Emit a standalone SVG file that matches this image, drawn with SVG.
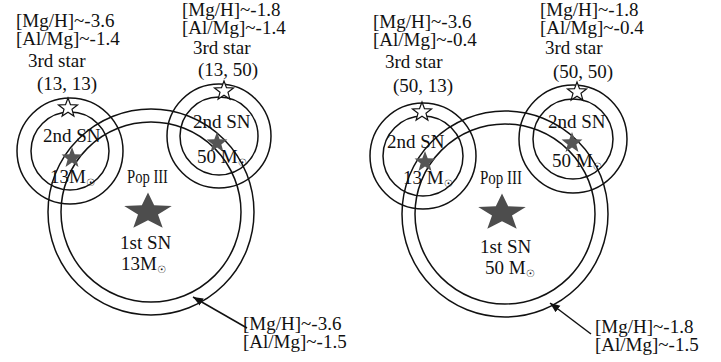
<svg xmlns="http://www.w3.org/2000/svg" width="721" height="362" viewBox="0 0 721 362">
<style>
text{font-family:"Liberation Serif","Times New Roman",serif;font-size:19px;fill:#111}
.ring{fill:none;stroke:#111;stroke-width:1.5}
.sun{font-family:"DejaVu Sans",sans-serif;font-size:10px}
.big{fill:#4d4d4d}
.sm{fill:#555}
.open{fill:#fff;stroke:#111;stroke-width:1.2}
.arr{stroke:#111;stroke-width:1.5;fill:none}
</style>
<defs>
<path id="bigstar" d="M0,-19.5 L6.17,-6.63 L23.78,-6.03 L9.99,2.53 L14.69,15.78 L0,8.2 L-14.69,15.78 L-9.99,2.53 L-23.78,-6.03 L-6.17,-6.63 Z"/>
<path id="smstar" d="M0,-11 L2.7,-3.7 L10.46,-3.4 L4.36,1.42 L6.47,8.9 L0,4.6 L-6.47,8.9 L-4.36,1.42 L-10.46,-3.4 L-2.7,-3.7 Z"/>
<path id="opstar" d="M0,-10 L2.47,-3.4 L9.51,-3.09 L3.99,1.3 L5.88,8.09 L0,4.2 L-5.88,8.09 L-3.99,1.3 L-9.51,-3.09 L-2.47,-3.4 Z"/>
<marker id="ah" viewBox="0 0 10 10" refX="10" refY="5" markerWidth="10" markerHeight="10" markerUnits="userSpaceOnUse" orient="auto">
<path d="M0,1 L10,5 L0,9 Z" fill="#111"/>
</marker>
</defs>

<!-- LEFT PANEL -->
<g id="L-first">
<circle class="ring" cx="151" cy="212" r="103"/>
<circle class="ring" cx="151" cy="212" r="90"/>
<use href="#bigstar" class="big" x="148" y="212"/>
<text x="127" y="183" textLength="41" lengthAdjust="spacingAndGlyphs" font-size="18">Pop III</text>
<text x="120" y="249">1st SN</text>
<text x="121" y="270">13M<tspan class="sun" dy="3">☉</tspan></text>
</g>
<g id="L-second-a">
<circle class="ring" cx="70" cy="151" r="53"/>
<circle class="ring" cx="70" cy="151" r="39"/>
<use href="#smstar" class="sm" x="72" y="158"/>
<use href="#opstar" class="open" x="68" y="108"/>
<text x="43" y="142">2nd SN</text>
<text x="50" y="183">13M<tspan class="sun" dy="3">☉</tspan></text>
<text x="16" y="27">[Mg/H]~-3.6</text>
<text x="16" y="45">[Al/Mg]~-1.4</text>
<text x="28" y="67">3rd star</text>
<text x="37" y="90">(13, 13)</text>
</g>
<g id="L-second-b">
<circle class="ring" cx="219" cy="136" r="52"/>
<circle class="ring" cx="219" cy="136" r="39"/>
<use href="#smstar" class="sm" x="217" y="143"/>
<use href="#opstar" class="open" x="224" y="91"/>
<text x="193" y="128">2nd SN</text>
<text x="197" y="163">50 M<tspan class="sun" dy="3">☉</tspan></text>
<text x="182" y="16">[Mg/H]~-1.8</text>
<text x="182" y="34">[Al/Mg]~-1.4</text>
<text x="193" y="54">3rd star</text>
<text x="198" y="76">(13, 50)</text>
</g>
<g id="L-label">
<text x="243" y="330">[Mg/H]~-3.6</text>
<text x="243" y="348">[Al/Mg]~-1.5</text>
</g>

<!-- RIGHT PANEL -->
<g id="R-first">
<circle class="ring" cx="505" cy="214" r="103"/>
<circle class="ring" cx="505" cy="214" r="90"/>
<use href="#bigstar" class="big" x="502" y="213"/>
<text x="480" y="184" textLength="42" lengthAdjust="spacingAndGlyphs" font-size="18">Pop III</text>
<text x="480" y="253">1st SN</text>
<text x="485" y="274">50 M<tspan class="sun" dy="3">☉</tspan></text>
</g>
<g id="R-second-a">
<circle class="ring" cx="423" cy="156" r="53"/>
<circle class="ring" cx="423" cy="156" r="40"/>
<use href="#smstar" class="sm" x="425" y="162"/>
<use href="#opstar" class="open" x="422" y="112"/>
<text x="387" y="148">2nd SN</text>
<text x="403" y="184">13 M<tspan class="sun" dy="3">☉</tspan></text>
<text x="373" y="28">[Mg/H]~-3.6</text>
<text x="373" y="46">[Al/Mg]~-0.4</text>
<text x="385" y="68">3rd star</text>
<text x="393" y="92">(50, 13)</text>
</g>
<g id="R-second-b">
<circle class="ring" cx="573" cy="139" r="54"/>
<circle class="ring" cx="573" cy="139" r="40"/>
<use href="#smstar" class="sm" x="572" y="143"/>
<use href="#opstar" class="open" x="577" y="92"/>
<text x="548" y="128">2nd SN</text>
<text x="552" y="167">50 M<tspan class="sun" dy="3">☉</tspan></text>
<text x="540" y="16">[Mg/H]~-1.8</text>
<text x="540" y="34">[Al/Mg]~-0.4</text>
<text x="545" y="54">3rd star</text>
<text x="553" y="78">(50, 50)</text>
</g>
<g id="R-label">
<text x="595" y="333">[Mg/H]~-1.8</text>
<text x="595" y="351">[Al/Mg]~-1.5</text>
</g>

<g id="connectors">
<line class="arr" x1="247" y1="328" x2="193" y2="297" marker-end="url(#ah)"/>
<line class="arr" x1="591" y1="334" x2="550" y2="303" marker-end="url(#ah)"/>
</g>
</svg>
